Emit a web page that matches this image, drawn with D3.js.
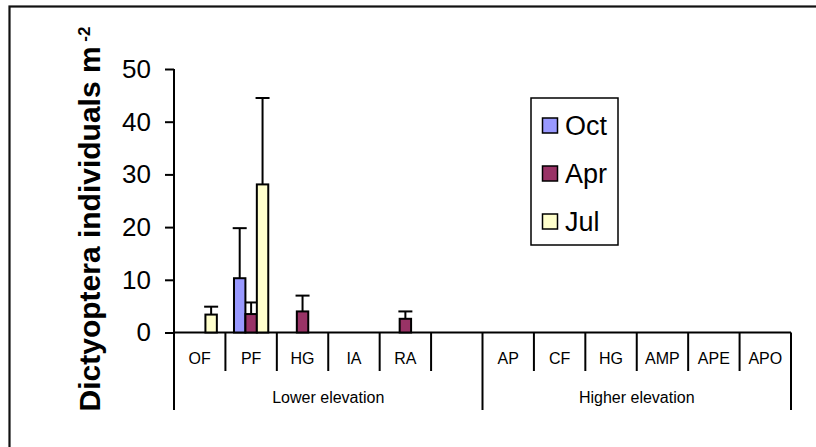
<!DOCTYPE html>
<html>
<head>
<meta charset="utf-8">
<script src="https://cdn.jsdelivr.net/npm/d3@7"></script>
<style>
  body { margin: 0; background: #fff; }
  svg text { font-family: "Liberation Sans", Arial, sans-serif; fill: #000; }
</style>
</head>
<body>
<script>
/*
    DATA
*/
var categories = ["OF", "PF", "HG", "IA", "RA", "", "AP", "CF", "HG", "AMP", "APE", "APO"];
var groups = [
  {name: "Lower elevation", from: 0, to: 6},
  {name: "Higher elevation", from: 6, to: 12}
];
var seriesNames = ["Oct", "Apr", "Jul"];
var seriesColors = ["#9999FF", "#993366", "#FFFFCC"];

// mean values per category (null = no bar)
var octVals = [null, 10.3, null, null, null, null, null, null, null, null, null, null];
var aprVals = [null, 3.5, 4.0, null, 2.6, null, null, null, null, null, null, null];
var julVals = [3.4, 28.1, null, null, null, null, null, null, null, null, null, null];

// upper error bar lengths
var octErr = [null, 9.5, null, null, null, null, null, null, null, null, null, null];
var aprErr = [null, 2.2, 3.0, null, 1.4, null, null, null, null, null, null, null];
var julErr = [1.5, 16.4, null, null, null, null, null, null, null, null, null, null];

var yTicks = [0, 10, 20, 30, 40, 50];

/*
    LAYOUT
*/
var width = 816, height = 447;
var plot = {left: 174, right: 791, top: 69, bottom: 332.5};

var svg = d3.select("body").append("svg")
    .attr("width", width)
    .attr("height", height);

// outer frame (cropped at right and bottom in the original)
svg.append("rect")
    .attr("x", 9.5).attr("y", 6.5)
    .attr("width", 900).attr("height", 600)
    .attr("fill", "none")
    .attr("stroke", "#111")
    .attr("stroke-width", 2.2);

var x = d3.scaleBand()
    .domain(d3.range(categories.length))
    .range([plot.left, plot.right])
    .padding(0);

var xs = d3.scaleBand()
    .domain(seriesNames)
    .range([0, x.bandwidth()])
    .paddingInner(0)
    .paddingOuter(0.75);

var y = d3.scaleLinear()
    .domain([0, 50])
    .range([plot.bottom, plot.top]);

/*
    Y AXIS
*/
var yAxis = svg.append("g")
    .attr("transform", "translate(" + plot.left + ",0)")
    .call(d3.axisLeft(y).tickValues(yTicks).tickSize(9).tickSizeOuter(0).tickPadding(14));
yAxis.select(".domain").remove();
yAxis.selectAll(".tick line").attr("stroke", "#000").attr("stroke-width", 2);
yAxis.selectAll(".tick text")
    .style("font-size", "26px")
    .style("font-family", "'Liberation Sans', Arial, sans-serif")
    .attr("fill", "#000");

// y axis line (runs down past the baseline as the left category divider)
svg.append("line")
    .attr("x1", plot.left).attr("x2", plot.left)
    .attr("y1", y(50)).attr("y2", 410)
    .attr("stroke", "#000").attr("stroke-width", 2);

// baseline
svg.append("line")
    .attr("x1", plot.left).attr("x2", plot.right)
    .attr("y1", y(0)).attr("y2", y(0))
    .attr("stroke", "#000").attr("stroke-width", 2);

// category dividers
var bounds = d3.range(1, categories.length + 1);
svg.selectAll("line.divider")
  .data(bounds)
  .enter().append("line")
    .attr("class", "divider")
    .attr("x1", function(i) { return i < categories.length ? x(i) : plot.right; })
    .attr("x2", function(i) { return i < categories.length ? x(i) : plot.right; })
    .attr("y1", y(0))
    .attr("y2", function(i) { return (i == 6 || i == categories.length) ? 410 : 371; })
    .attr("stroke", "#000").attr("stroke-width", 2);

// category labels
svg.selectAll("text.cat")
  .data(categories)
  .enter().append("text")
    .attr("class", "cat")
    .attr("x", function(d, i) { return x(i) + x.bandwidth() / 2; })
    .attr("y", 358)
    .attr("dy", "0.35em")
    .attr("text-anchor", "middle")
    .style("font-size", "16px")
    .text(function(d) { return d; });

// group labels
svg.selectAll("text.grp")
  .data(groups)
  .enter().append("text")
    .attr("class", "grp")
    .attr("x", function(g) { return (x(g.from) + (g.to < categories.length ? x(g.to) : plot.right)) / 2; })
    .attr("y", 397)
    .attr("dy", "0.35em")
    .attr("text-anchor", "middle")
    .style("font-size", "16px")
    .text(function(g) { return g.name; });

// y axis title
var title = svg.append("text")
    .attr("transform", "translate(100,219) rotate(-90)")
    .attr("text-anchor", "middle")
    .style("font-size", "30px")
    .style("font-weight", "bold");
title.append("tspan").text("Dictyoptera individuals m");
title.append("tspan")
    .attr("dy", "-0.6em")
    .style("font-size", "17px")
    .text(" -2");

/*
    BARS + ERROR BARS
*/
var seriesData = [
  {name: "Oct", vals: octVals, err: octErr},
  {name: "Apr", vals: aprVals, err: aprErr},
  {name: "Jul", vals: julVals, err: julErr}
];

var barData = [];
seriesData.forEach(function(s, si) {
  s.vals.forEach(function(v, i) {
    if (v != null) barData.push({series: s.name, si: si, cat: i, v: v, e: s.err[i]});
  });
});

var capW = 14;

// error bars drawn first so the bars sit over them
var errs = svg.selectAll("g.err")
  .data(barData.filter(function(d) { return d.e != null; }))
  .enter().append("g")
    .attr("class", "err");
errs.append("line")
    .attr("x1", function(d) { return x(d.cat) + xs(d.series) + xs.bandwidth() / 2; })
    .attr("x2", function(d) { return x(d.cat) + xs(d.series) + xs.bandwidth() / 2; })
    .attr("y1", function(d) { return y(d.v); })
    .attr("y2", function(d) { return y(d.v + d.e); })
    .attr("stroke", "#000").attr("stroke-width", 2);
errs.append("line")
    .attr("x1", function(d) { return x(d.cat) + xs(d.series) + xs.bandwidth() / 2 - capW / 2; })
    .attr("x2", function(d) { return x(d.cat) + xs(d.series) + xs.bandwidth() / 2 + capW / 2; })
    .attr("y1", function(d) { return y(d.v + d.e); })
    .attr("y2", function(d) { return y(d.v + d.e); })
    .attr("stroke", "#000").attr("stroke-width", 2);

svg.selectAll("rect.bar")
  .data(barData)
  .enter().append("rect")
    .attr("class", "bar")
    .attr("x", function(d) { return x(d.cat) + xs(d.series); })
    .attr("y", function(d) { return y(d.v); })
    .attr("width", xs.bandwidth())
    .attr("height", function(d) { return y(0) - y(d.v); })
    .attr("fill", function(d) { return seriesColors[d.si]; })
    .attr("stroke", "#000").attr("stroke-width", 2);

/*
    LEGEND
*/
var legend = svg.append("g");
legend.append("rect")
    .attr("x", 531).attr("y", 98)
    .attr("width", 87).attr("height", 147)
    .attr("fill", "#fff")
    .attr("stroke", "#000").attr("stroke-width", 1.5);

var legendY = d3.scalePoint().domain(seriesNames).range([125.5, 221.5]);

var li = legend.selectAll("g.item")
  .data(seriesNames)
  .enter().append("g")
    .attr("class", "item");
li.append("rect")
    .attr("x", 542.5)
    .attr("y", function(d) { return legendY(d) - 7.5; })
    .attr("width", 15).attr("height", 15)
    .attr("fill", function(d, i) { return seriesColors[i]; })
    .attr("stroke", "#000").attr("stroke-width", 1.5);
li.append("text")
    .attr("x", 565)
    .attr("y", function(d) { return legendY(d); })
    .attr("dy", "0.36em")
    .style("font-size", "27px")
    .text(function(d) { return d; });
</script>
</body>
</html>
